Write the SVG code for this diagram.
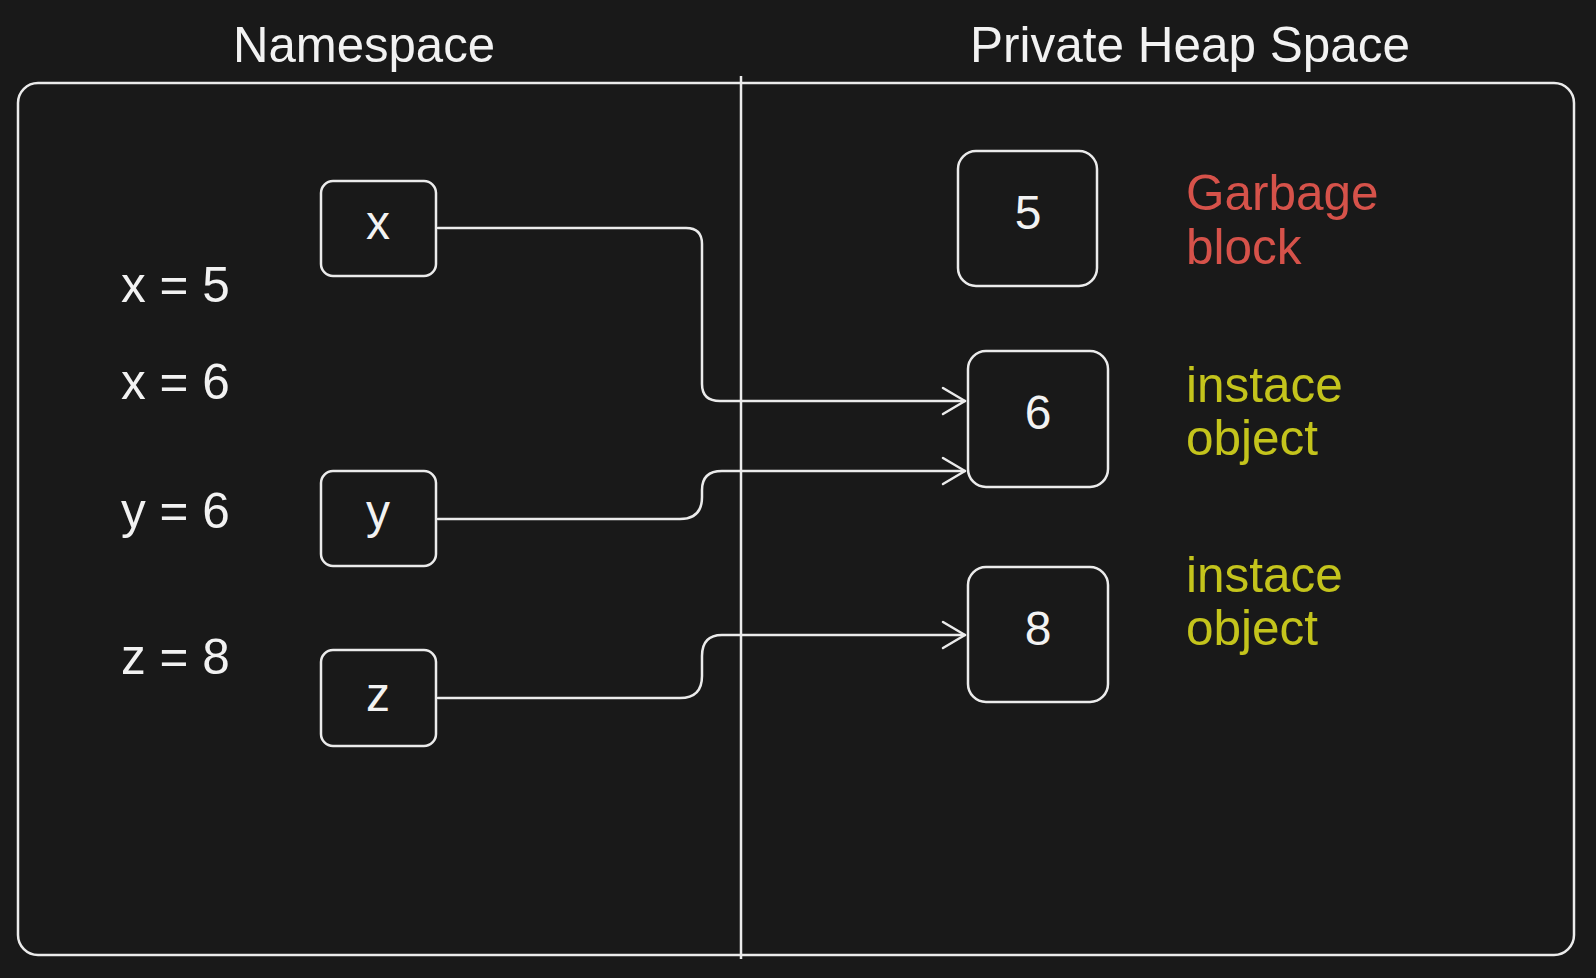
<svg xmlns="http://www.w3.org/2000/svg" width="1596" height="978" viewBox="0 0 1596 978">
<defs>
<style>
.bg{fill:#191919}
.frame{fill:none;stroke:#ebebeb;stroke-width:2.5}
.box{fill:#191919;stroke:#ebebeb;stroke-width:2.5}
.edge{fill:none;stroke:#ebebeb;stroke-width:2.5;stroke-linecap:round;stroke-linejoin:round}
.t{font-family:"Liberation Sans",Arial,sans-serif;fill:#f2f2f2}
.title{font-size:50px;text-anchor:middle}
.lbl{font-size:49.5px}
.num{font-size:48px;text-anchor:middle}
.red{fill:#d6524a}
.yel{fill:#c4c41c}
</style>
<marker id="arr" viewBox="0 0 30 30" refX="24" refY="15" markerWidth="30" markerHeight="30" markerUnits="userSpaceOnUse" orient="auto">
<path d="M2,2 L24,15 L2,28" fill="none" stroke="#ebebeb" stroke-width="2.5" stroke-linecap="round" stroke-linejoin="round"/>
</marker>
</defs>
<rect class="bg" x="0" y="0" width="1596" height="978"/>
<g id="titles">
<text class="t title" x="364" y="62" textLength="262" lengthAdjust="spacingAndGlyphs">Namespace</text>
<text class="t title" x="1190" y="62" textLength="440" lengthAdjust="spacingAndGlyphs">Private Heap Space</text>
</g>
<g id="frame">
<rect class="frame" x="18" y="83" width="1556" height="872" rx="20" ry="20"/>
<line class="frame" x1="741" y1="76" x2="741" y2="959"/>
</g>
<g id="assignments">
<text class="t lbl" x="121" y="302">x = 5</text>
<text class="t lbl" x="121" y="399">x = 6</text>
<text class="t lbl" x="121" y="528">y = 6</text>
<text class="t lbl" x="121" y="674">z = 8</text>
</g>
<g id="node-x">
<rect class="box" x="321" y="181" width="115" height="95" rx="12"/>
<text class="t num" x="378" y="239">x</text>
</g>
<g id="node-y">
<rect class="box" x="321" y="471" width="115" height="95" rx="12"/>
<text class="t num" x="378" y="528">y</text>
</g>
<g id="node-z">
<rect class="box" x="321" y="650" width="115" height="96" rx="12"/>
<text class="t num" x="378" y="711">z</text>
</g>
<g id="node-5">
<rect class="box" x="958" y="151" width="139" height="135" rx="18"/>
<text class="t num" x="1028" y="229">5</text>
</g>
<g id="node-6">
<rect class="box" x="968" y="351" width="140" height="136" rx="18"/>
<text class="t num" x="1038" y="429">6</text>
</g>
<g id="node-8">
<rect class="box" x="968" y="567" width="140" height="135" rx="18"/>
<text class="t num" x="1038" y="645">8</text>
</g>
<g id="notes">
<text class="t lbl red" x="1186" y="210">Garbage</text>
<text class="t lbl red" x="1186" y="264">block</text>
<text class="t lbl yel" x="1186" y="402">instace</text>
<text class="t lbl yel" x="1186" y="455">object</text>
<text class="t lbl yel" x="1186" y="592">instace</text>
<text class="t lbl yel" x="1186" y="645">object</text>
</g>
<g id="connectors">
<path class="edge" d="M438,228 L686,228 Q702,228 702,244 L702,384 Q702,401 720,401 L965,401" marker-end="url(#arr)"/>
<path class="edge" d="M438,519 L680,519 Q702,519 702,497 L702,490 Q702,471 722,471 L965,471" marker-end="url(#arr)"/>
<path class="edge" d="M438,698 L680,698 Q702,698 702,676 L702,656 Q702,635 722,635 L965,635" marker-end="url(#arr)"/>
</g>
</svg>
